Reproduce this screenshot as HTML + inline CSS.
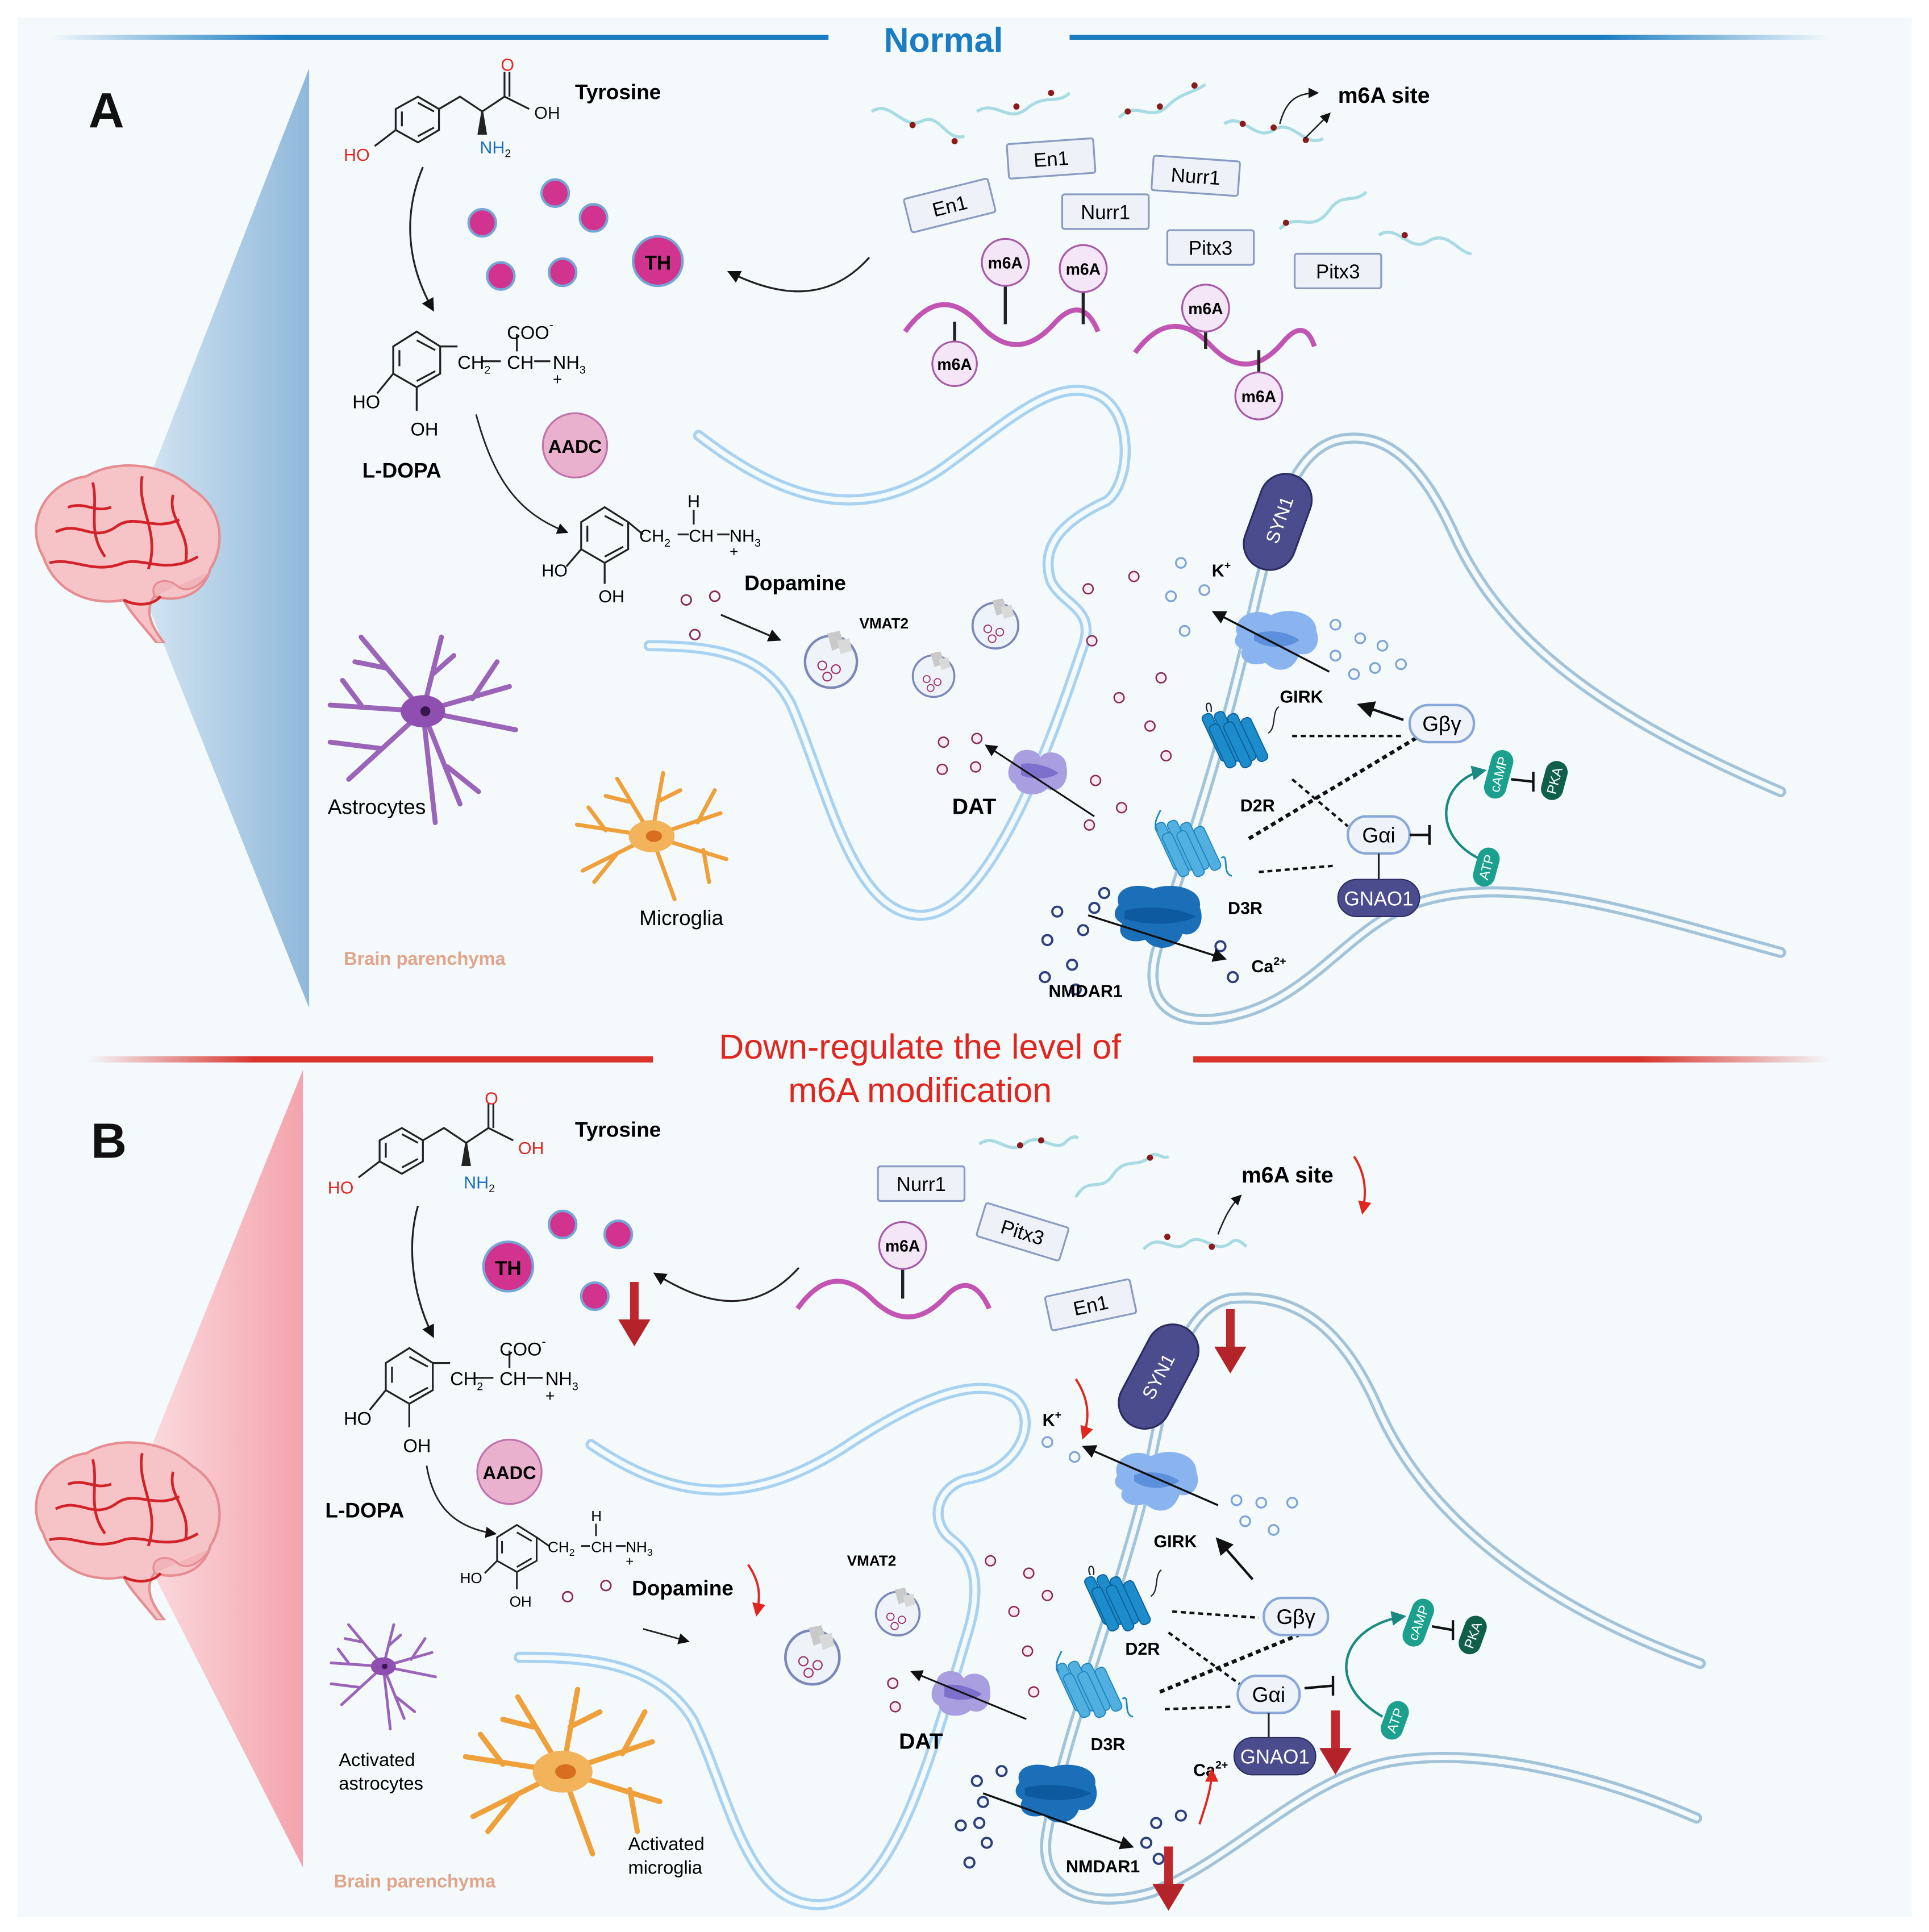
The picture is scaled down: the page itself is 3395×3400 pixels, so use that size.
<!DOCTYPE html>
<html><head><meta charset="utf-8"><style>
html,body{margin:0;padding:0;background:#fff}
svg{display:block}
text{font-family:"Liberation Sans",sans-serif}
</style></head><body>
<svg width="3395" height="3400" viewBox="0 0 1560 1562" xmlns="http://www.w3.org/2000/svg">
<defs>
<linearGradient id="lb" x1="0" x2="1"><stop offset="0" stop-color="#1a7cc1" stop-opacity="0"/><stop offset="0.3" stop-color="#1a7cc1"/><stop offset="1" stop-color="#1a7cc1"/></linearGradient>
<linearGradient id="rb" x1="0" x2="1"><stop offset="0" stop-color="#1a7cc1"/><stop offset="0.7" stop-color="#1a7cc1"/><stop offset="1" stop-color="#1a7cc1" stop-opacity="0"/></linearGradient>
<linearGradient id="lr" x1="0" x2="1"><stop offset="0" stop-color="#d8322b" stop-opacity="0"/><stop offset="0.3" stop-color="#d8322b"/><stop offset="1" stop-color="#d8322b"/></linearGradient>
<linearGradient id="rr" x1="0" x2="1"><stop offset="0" stop-color="#d8322b"/><stop offset="0.7" stop-color="#d8322b"/><stop offset="1" stop-color="#d8322b" stop-opacity="0"/></linearGradient>
<linearGradient id="tb" x1="0" x2="1"><stop offset="0" stop-color="#dbeaf5"/><stop offset="1" stop-color="#8fb8da"/></linearGradient>
<linearGradient id="tr" x1="0" x2="1"><stop offset="0" stop-color="#fbe3e6"/><stop offset="1" stop-color="#f4a3ac"/></linearGradient>
<marker id="ah" viewBox="0 0 10 10" refX="8" refY="5" markerWidth="7" markerHeight="7" orient="auto-start-reverse"><path d="M0,0L10,5L0,10z" fill="#111"/></marker>
<marker id="ahr" viewBox="0 0 10 10" refX="8" refY="5" markerWidth="6" markerHeight="6" orient="auto"><path d="M0,0L10,5L0,10z" fill="#e0261f"/></marker>
<marker id="aht" viewBox="0 0 10 10" refX="8" refY="5" markerWidth="6" markerHeight="6" orient="auto"><path d="M0,0L10,5L0,10z" fill="#1a8a80"/></marker>
<symbol id="brain" viewBox="0 0 170 150">
<path d="M20,80 C5,55 20,20 55,15 C80,0 120,5 140,25 C165,40 168,70 155,90 C150,110 130,118 110,112 C100,125 110,140 118,150 L112,150 C100,135 90,125 85,115 C60,120 30,110 20,80Z" fill="#f6c3c6" stroke="#e58d93" stroke-width="2"/>
<path d="M30,60 C50,50 60,70 80,55 C95,45 110,60 130,50 M25,85 C45,80 60,95 85,85 C100,80 120,95 145,80 M60,20 C65,40 55,60 70,80 M100,15 C95,40 115,60 105,90 M125,30 C120,50 140,60 135,85 M85,115 C95,120 108,120 115,112 M40,40 C55,35 60,45 75,40" fill="none" stroke="#d2232a" stroke-width="2.2"/>
<path d="M110,112 C105,100 120,95 130,105 C140,110 150,100 155,92" fill="#f1b5b9" stroke="#e58d93" stroke-width="1.5"/>
</symbol>
<symbol id="girk" viewBox="0 0 80 60"><path d="M5,25 C0,10 20,0 35,8 C50,0 75,5 75,22 C80,35 70,45 60,42 C55,58 40,60 30,50 C15,55 5,45 10,38 C2,35 2,30 5,25Z" fill="#8ab4ef"/><path d="M20,25 C30,20 50,22 60,30 C50,38 30,38 20,30Z" fill="#5c8fdc"/></symbol>
<symbol id="nmdar" viewBox="0 0 80 60"><path d="M5,20 C0,5 20,0 35,6 C50,0 78,5 75,22 C80,35 72,48 60,45 C55,60 35,60 28,50 C12,55 2,45 8,36 C0,32 0,26 5,20Z" fill="#1b6fb8"/><path d="M10,25 C30,20 55,22 72,30 C55,38 30,38 10,32Z" fill="#0d5aa0"/></symbol>
<symbol id="dat" viewBox="0 0 60 50"><path d="M8,15 C10,3 28,3 32,12 C38,4 55,8 55,20 C58,35 48,45 38,40 C30,48 12,46 10,36 C2,32 2,22 8,15Z" fill="#a89ee0"/><path d="M15,18 C25,16 40,20 48,26 C40,32 25,32 15,28Z" fill="#7d6fcc"/></symbol>
<symbol id="gpcr" viewBox="0 0 70 70"><g fill="#1c8ccc" stroke="#0a5f96" stroke-width="1"><rect x="8" y="10" width="10" height="48" rx="4" transform="rotate(-25 13 34)"/><rect x="20" y="8" width="10" height="50" rx="4" transform="rotate(-25 25 33)"/><rect x="32" y="10" width="10" height="48" rx="4" transform="rotate(-25 37 34)"/><rect x="44" y="14" width="10" height="44" rx="4" transform="rotate(-25 49 36)"/><rect x="14" y="20" width="10" height="44" rx="4" transform="rotate(-25 19 42)"/><rect x="28" y="18" width="10" height="46" rx="4" transform="rotate(-25 33 41)"/></g><path d="M5,10 C0,0 10,-2 8,10 M62,30 C70,25 65,10 72,5" fill="none" stroke="#222" stroke-width="1.2"/></symbol>
<symbol id="gpcr3" viewBox="0 0 70 70"><g fill="#52b0e0" stroke="#1f86c0" stroke-width="1"><rect x="8" y="10" width="10" height="48" rx="4" transform="rotate(-25 13 34)"/><rect x="20" y="8" width="10" height="50" rx="4" transform="rotate(-25 25 33)"/><rect x="32" y="10" width="10" height="48" rx="4" transform="rotate(-25 37 34)"/><rect x="44" y="14" width="10" height="44" rx="4" transform="rotate(-25 49 36)"/><rect x="14" y="20" width="10" height="44" rx="4" transform="rotate(-25 19 42)"/><rect x="28" y="18" width="10" height="46" rx="4" transform="rotate(-25 33 41)"/></g><path d="M2,20 C-5,10 8,0 5,-5 M62,45 C70,40 62,60 72,62" fill="none" stroke="#1f86c0" stroke-width="1.5"/></symbol>
<symbol id="ves" viewBox="0 0 50 50"><circle cx="25" cy="27" r="21" fill="#eef3fa" stroke="#7a87b8" stroke-width="2"/><circle cx="18" cy="30" r="3.5" fill="none" stroke="#a0306a" stroke-width="1"/><circle cx="29" cy="33" r="3.5" fill="none" stroke="#a0306a" stroke-width="1"/><circle cx="22" cy="39" r="3.5" fill="none" stroke="#a0306a" stroke-width="1"/><path d="M22,4 L32,2 L36,14 L26,18Z" fill="#c9c9c9"/><path d="M30,10 L40,8 L42,18 L33,21Z" fill="#d9d9d9"/></symbol>
<symbol id="astro" viewBox="0 0 160 170"><g fill="none" stroke="#9a64b8" stroke-width="4" stroke-linecap="round"><path d="M80,75 L30,15 M50,40 L25,35 M80,75 L95,15 M88,45 L105,30 M80,75 L150,55 M120,65 L140,35 M80,75 L155,90 M80,75 L110,150 M100,120 L125,140 M80,75 L90,165 M80,75 L20,130 M45,105 L5,100 M80,75 L5,70 M30,70 L15,50"/></g><ellipse cx="80" cy="75" rx="18" ry="13" fill="#8e4fb0"/><circle cx="82" cy="75" r="4" fill="#3a1650"/></symbol>
<symbol id="micro" viewBox="0 0 140 120"><g fill="none" stroke="#f0a03a" stroke-width="3.5" stroke-linecap="round"><path d="M70,60 L40,10 M50,30 L30,25 M70,60 L80,5 M75,30 L95,20 M70,60 L130,40 M110,48 L125,20 M70,60 L135,80 M115,72 L120,100 M70,60 L90,115 M70,60 L10,90 M40,75 L20,100 M70,60 L5,50 M30,55 L15,35"/></g><ellipse cx="70" cy="60" rx="20" ry="14" fill="#f3b35a"/><ellipse cx="72" cy="60" rx="7" ry="5" fill="#d86e20"/></symbol>
<symbol id="rarrow" viewBox="0 0 30 60"><rect x="11" y="0" width="8" height="40" fill="#c0272d"/><path d="M0,35 L30,35 L15,60Z" fill="#b5232a"/></symbol>
<symbol id="tyro" viewBox="0 0 280 100">
<g fill="none" stroke="#222" stroke-width="1.6"><path d="M45,65 L45,43 L64,32 L83,43 L83,65 L64,76Z M50,63 L50,46 M64,70 L79,62 M79,46 L64,37 M83,43 L102,32 L120,43 M120,43 L139,32 M139,32 L139,10 M143,32 L143,10 M139,32 L156,42 M45,65 L28,75"/><path d="M120,43 L123,60 L117,60Z" fill="#222"/></g>
</symbol>
</defs>

<rect width="1560" height="1562" fill="#ffffff"/>
<rect x="14" y="14" width="1532" height="1536" fill="#f4f9fc"/>

<!-- ===== PANEL A ===== -->
<rect x="40" y="28" width="630" height="4" fill="url(#lb)"/>
<rect x="865" y="28" width="615" height="4" fill="url(#rb)"/>
<text x="763" y="42" font-size="28" font-weight="bold" fill="#1a7cc1" text-anchor="middle">Normal</text>
<text x="86" y="103" font-size="40" font-weight="bold" fill="#111" text-anchor="middle">A</text>
<path d="M100,440 L250,55 L250,815Z" fill="url(#tb)"/>
<use href="#brain" x="15" y="370" width="170" height="150"/>

<!-- tyrosine -->
<g fill="none" stroke="#222" stroke-width="1.5">
<path d="M320,105 L320,88 L338,78 L355,88 L355,105 L338,115Z M325,102 L325,90 M338,110 L351,103 M351,90 L338,83"/>
<path d="M320,105 L303,118 M355,88 L372,78 L390,90 L408,78 L408,58 M412,78 L412,58 M408,78 L428,88"/>
<path d="M390,90 L393,108 L387,108Z" fill="#222"/>
</g>
<text x="278" y="130" font-size="14"><tspan fill="#e0261f">H</tspan><tspan fill="#e0261f">O</tspan></text>
<text x="405" y="57" font-size="14" fill="#e0261f">O</text>
<text x="432" y="96" font-size="14" fill="#111">O<tspan fill="#111">H</tspan></text>
<text x="388" y="124" font-size="14" fill="#1a6fc0">NH<tspan font-size="9" dy="3" fill="#111">2</tspan></text>
<text x="465" y="80" font-size="17" font-weight="bold">Tyrosine</text>
<path d="M342,135 C325,175 330,215 350,250" fill="none" stroke="#222" stroke-width="1.5" marker-end="url(#ah)"/>

<!-- enzymes circles -->
<g fill="#d1338f" stroke="#74a6d6" stroke-width="2">
<circle cx="390" cy="180" r="11"/><circle cx="449" cy="156" r="11"/><circle cx="480" cy="176" r="11"/><circle cx="405" cy="223" r="11"/><circle cx="455" cy="220" r="11"/><circle cx="532" cy="211" r="20"/></g>
<text x="532" y="218" font-size="16" font-weight="bold" text-anchor="middle">TH</text>
<path d="M703,208 C670,245 630,240 590,220" fill="none" stroke="#222" stroke-width="1.5" marker-end="url(#ah)"/>

<!-- L-DOPA -->
<g fill="none" stroke="#222" stroke-width="1.5">
<path d="M318,298 L318,280 L337,268 L356,280 L356,302 L337,313 L318,302Z M323,296 L323,283 M337,308 L352,300 M352,283 L337,275 M356,280 L370,280 M318,302 L305,318 M337,313 L337,332 M418,270 L418,284 M390,292 L405,292 M432,292 L445,292"/></g>
<text x="370" y="298" font-size="15">CH<tspan font-size="9" dy="4">2</tspan></text>
<text x="410" y="298" font-size="15">CH</text>
<text x="447" y="298" font-size="15">NH<tspan font-size="9" dy="4">3</tspan></text>
<text x="447" y="311" font-size="13">+</text>
<text x="410" y="274" font-size="15">COO<tspan font-size="10" dy="-8">-</tspan></text>
<text x="285" y="330" font-size="15">HO</text>
<text x="332" y="352" font-size="15">OH</text>
<text x="293" y="386" font-size="17" font-weight="bold">L-DOPA</text>
<circle cx="465" cy="360" r="26" fill="#e9b1cd" stroke="#c173ac" stroke-width="1.5"/>
<text x="465" y="366" font-size="15" font-weight="bold" text-anchor="middle">AADC</text>
<path d="M385,335 C400,390 420,415 458,430" fill="none" stroke="#222" stroke-width="1.3" marker-end="url(#ah)"/>

<!-- Dopamine -->
<g fill="none" stroke="#222" stroke-width="1.5">
<path d="M470,440 L470,422 L489,410 L508,422 L508,444 L489,455 L470,444Z M475,438 L475,425 M489,450 L504,442 M504,425 L489,417 M508,422 L520,432 M470,444 L458,458 M489,455 L489,472 M561,412 L561,424 M548,432 L557,432 M580,432 L590,432"/></g>
<text x="517" y="438" font-size="14">CH<tspan font-size="9" dy="4">2</tspan></text>
<text x="557" y="438" font-size="14">CH</text>
<text x="590" y="438" font-size="14">NH<tspan font-size="9" dy="4">3</tspan></text>
<text x="590" y="450" font-size="12">+</text>
<text x="556" y="410" font-size="14">H</text>
<text x="438" y="466" font-size="14">HO</text>
<text x="484" y="487" font-size="14">OH</text>
<text x="602" y="477" font-size="17" font-weight="bold">Dopamine</text>
<g fill="none" stroke="#8a2a5a" stroke-width="1.3"><circle cx="555" cy="485" r="4"/><circle cx="578" cy="482" r="4"/><circle cx="562" cy="513" r="4"/></g>
<path d="M583,497 L630,517" stroke="#222" stroke-width="1.5" marker-end="url(#ah)"/>

<!-- mRNA region A -->
<g fill="none" stroke="#a8dbe2" stroke-width="2.5">
<path d="M705,90 C720,80 730,105 745,98 C760,90 765,115 780,110"/>
<path d="M790,90 C805,80 815,100 830,88 C845,75 855,85 865,75"/>
<path d="M905,95 C920,80 930,100 945,85 C955,75 965,75 975,68"/>
<path d="M990,100 C1005,90 1015,115 1030,105 C1045,95 1055,120 1070,112"/>
<path d="M1035,185 C1050,170 1060,190 1075,170 C1085,155 1095,165 1105,155"/>
<path d="M1115,190 C1130,180 1140,205 1155,195 C1170,185 1180,205 1190,205"/>
</g>
<g fill="#8b1a1a"><circle cx="738" cy="101" r="2.5"/><circle cx="772" cy="114" r="2.5"/><circle cx="822" cy="86" r="2.5"/><circle cx="850" cy="75" r="2.5"/><circle cx="912" cy="90" r="2.5"/><circle cx="938" cy="86" r="2.5"/><circle cx="966" cy="69" r="2.5"/><circle cx="1005" cy="100" r="2.5"/><circle cx="1030" cy="103" r="2.5"/><circle cx="1056" cy="113" r="2.5"/><circle cx="1040" cy="180" r="2.5"/><circle cx="1136" cy="190" r="2.5"/></g>
<path d="M1035,100 C1040,80 1050,75 1065,75" fill="none" stroke="#222" stroke-width="1.2" marker-end="url(#ah)"/>
<path d="M1055,112 L1075,92" fill="none" stroke="#222" stroke-width="1.2" marker-end="url(#ah)"/>
<text x="1082" y="83" font-size="18" font-weight="bold">m6A site</text>

<g fill="#eef2f8" stroke="#8a9cc2" stroke-width="1.5">
<rect x="733" y="152" width="70" height="28" rx="2" transform="rotate(-14 768 166)"/>
<rect x="815" y="114" width="70" height="28" rx="2" transform="rotate(-4 850 128)"/>
<rect x="859" y="157" width="70" height="28" rx="2"/>
<rect x="932" y="128" width="70" height="28" rx="2" transform="rotate(4 967 142)"/>
<rect x="944" y="186" width="70" height="28" rx="2"/>
<rect x="1047" y="205" width="70" height="28" rx="2"/>
</g>
<g font-size="16" text-anchor="middle">
<text x="768" y="172" transform="rotate(-14 768 166)">En1</text>
<text x="850" y="134" transform="rotate(-4 850 128)">En1</text>
<text x="894" y="177">Nurr1</text>
<text x="967" y="148" transform="rotate(4 967 142)">Nurr1</text>
<text x="979" y="206">Pitx3</text>
<text x="1082" y="225">Pitx3</text>
</g>
<g fill="none" stroke="#c254b4" stroke-width="4">
<path d="M732,268 C752,240 772,240 792,262 C812,284 832,284 852,262 C868,244 880,248 888,268"/>
<path d="M918,285 C938,258 958,258 978,278 C998,300 1018,300 1038,276 C1050,262 1058,265 1063,280"/>
</g>
<g stroke="#222" stroke-width="2.5"><path d="M813,230 L813,262 M876,236 L876,262 M772,260 L772,282 M975,267 L975,282 M1018,283 L1018,305"/></g>
<g fill="#f4e6f6" stroke="#a65aa8" stroke-width="1.5"><circle cx="813" cy="212" r="19"/><circle cx="876" cy="217" r="19"/><circle cx="772" cy="294" r="18"/><circle cx="975" cy="249" r="19"/><circle cx="1018" cy="320" r="19"/></g>
<g font-size="13" font-weight="bold" text-anchor="middle"><text x="813" y="217">m6A</text><text x="876" y="222">m6A</text><text x="772" y="299">m6A</text><text x="975" y="254">m6A</text><text x="1018" y="325">m6A</text></g>

<!-- membranes A -->
<g fill="none" stroke-linecap="round">
<path id="preA" d="M565,352 C640,410 700,420 760,380 C810,345 850,305 885,318 C918,330 915,390 895,405 C862,420 840,440 850,470 C860,490 888,492 875,525 C850,600 800,740 745,740 C690,740 670,640 640,570 C620,530 580,522 525,522" stroke="#a9d2f0" stroke-width="9"/>
<path d="M565,352 C640,410 700,420 760,380 C810,345 850,305 885,318 C918,330 915,390 895,405 C862,420 840,440 850,470 C860,490 888,492 875,525 C850,600 800,740 745,740 C690,740 670,640 640,570 C620,530 580,522 525,522" stroke="#f4f9fc" stroke-width="4"/>
<path d="M1440,640 C1300,580 1215,520 1175,430 C1145,365 1115,350 1085,355 C1045,362 1030,420 1012,500 C985,620 955,700 935,770 C922,820 960,832 1002,820 C1060,805 1090,752 1140,732 C1220,702 1330,740 1440,770" stroke="#a3c3d9" stroke-width="9"/>
<path d="M1440,640 C1300,580 1215,520 1175,430 C1145,365 1115,350 1085,355 C1045,362 1030,420 1012,500 C985,620 955,700 935,770 C922,820 960,832 1002,820 C1060,805 1090,752 1140,732 C1220,702 1330,740 1440,770" stroke="#f4f9fc" stroke-width="4"/>
</g>

<!-- astrocyte microglia A -->
<use href="#astro" x="262" y="500" width="160" height="170"/>
<text x="265" y="658" font-size="17">Astrocytes</text>
<use href="#micro" x="462" y="620" width="130" height="112"/>
<text x="517" y="748" font-size="17">Microglia</text>
<text x="278" y="780" font-size="15" font-weight="bold" fill="#e0a58a">Brain parenchyma</text>

<!-- vesicles A -->
<use href="#ves" x="647" y="508" width="50" height="50"/>
<use href="#ves" x="735" y="522" width="40" height="46"/>
<use href="#ves" x="782" y="482" width="46" height="44"/>
<text x="695" y="508" font-size="12" font-weight="bold">VMAT2</text>

<!-- dopamine dots A -->
<g fill="#fbeaf3" stroke="#8a2a5a" stroke-width="1.2">
<circle cx="880" cy="476" r="4"/><circle cx="917" cy="466" r="4"/><circle cx="883" cy="518" r="4"/><circle cx="939" cy="548" r="4"/><circle cx="905" cy="564" r="4"/><circle cx="930" cy="587" r="4"/><circle cx="886" cy="631" r="4"/><circle cx="943" cy="611" r="4"/><circle cx="907" cy="653" r="4"/><circle cx="881" cy="667" r="4"/><circle cx="763" cy="600" r="4"/><circle cx="790" cy="597" r="4"/><circle cx="762" cy="622" r="4"/><circle cx="789" cy="620" r="4"/></g>
<!-- K+ A -->
<g fill="none" stroke="#7ea3d8" stroke-width="1.5"><circle cx="955" cy="455" r="4"/><circle cx="947" cy="482" r="4"/><circle cx="974" cy="477" r="4"/><circle cx="958" cy="510" r="4"/><circle cx="1080" cy="505" r="4"/><circle cx="1100" cy="516" r="4"/><circle cx="1118" cy="522" r="4"/><circle cx="1080" cy="530" r="4"/><circle cx="1095" cy="545" r="4"/><circle cx="1112" cy="540" r="4"/><circle cx="1133" cy="537" r="4"/></g>
<text x="980" y="466" font-size="14" font-weight="bold">K<tspan font-size="9" dy="-6">+</tspan></text>
<!-- Ca A -->
<g fill="none" stroke="#2e3f7e" stroke-width="1.8"><circle cx="855" cy="737" r="4"/><circle cx="885" cy="734" r="4"/><circle cx="847" cy="760" r="4"/><circle cx="876" cy="752" r="4"/><circle cx="867" cy="780" r="4"/><circle cx="845" cy="790" r="4"/><circle cx="870" cy="800" r="4"/><circle cx="893" cy="722" r="4"/><circle cx="987" cy="765" r="4"/><circle cx="997" cy="790" r="4"/></g>
<text x="1012" y="786" font-size="14" font-weight="bold">Ca<tspan font-size="9" dy="-6">2+</tspan></text>

<!-- receptors A -->
<rect x="1013" y="382" width="42" height="80" rx="21" fill="#4b4c8e" stroke="#2c2c60" stroke-width="1.5" transform="rotate(20 1034 420)"/>
<text x="1034" y="426" font-size="15" fill="#fff" text-anchor="middle" transform="rotate(-70 1034 420)">SYN1</text>
<use href="#girk" x="995" y="490" width="75" height="55"/>
<path d="M1075,543 L982,495" stroke="#111" stroke-width="1.6" marker-end="url(#ah)"/>
<text x="1035" y="568" font-size="14" font-weight="bold">GIRK</text>
<use href="#gpcr" x="970" y="567" width="65" height="60"/>
<text x="1003" y="656" font-size="14" font-weight="bold">D2R</text>
<use href="#gpcr3" x="932" y="655" width="65" height="60"/>
<text x="993" y="739" font-size="14" font-weight="bold">D3R</text>
<use href="#nmdar" x="900" y="710" width="75" height="62"/>
<path d="M880,740 L990,775" stroke="#111" stroke-width="1.6" marker-end="url(#ah)"/>
<text x="848" y="806" font-size="14" font-weight="bold">NMDAR1</text>
<use href="#dat" x="812" y="600" width="55" height="48"/>
<path d="M885,660 L798,603" stroke="#111" stroke-width="1.4" marker-end="url(#ah)"/>
<text x="770" y="658" font-size="18" font-weight="bold">DAT</text>

<!-- signalling A -->
<g stroke="#111" stroke-width="2" stroke-dasharray="4 3" fill="none">
<path d="M1045,595 L1135,595"/><path d="M1018,705 L1078,700"/><path d="M1010,678 L1148,595" stroke-width="3"/><path d="M1045,630 L1090,668"/></g>
<path d="M1135,582 L1100,570" stroke="#111" stroke-width="2" marker-end="url(#ah)"/>
<rect x="1140" y="570" width="52" height="30" rx="15" fill="#eef3fa" stroke="#8aa7d8" stroke-width="2"/>
<text x="1166" y="591" font-size="17" text-anchor="middle">Gβγ</text>
<rect x="1090" y="660" width="50" height="30" rx="15" fill="#eef3fa" stroke="#8aa7d8" stroke-width="2"/>
<text x="1115" y="681" font-size="17" text-anchor="middle">Gαi</text>
<path d="M1115,690 L1115,712" stroke="#222" stroke-width="1.5"/>
<rect x="1082" y="711" width="66" height="30" rx="15" fill="#4b4c8e" stroke="#2c2c60"/>
<text x="1115" y="732" font-size="16" fill="#fff" text-anchor="middle">GNAO1</text>
<path d="M1140,675 L1156,675 M1156,667 L1156,683" stroke="#111" stroke-width="2"/>
<path d="M1198,695 C1155,675 1165,630 1200,623" fill="none" stroke="#1a8a80" stroke-width="2" marker-end="url(#aht)"/>
<rect x="1203" y="606" width="18" height="40" rx="9" fill="#1aa08c" transform="rotate(15 1212 626)"/>
<text x="1212" y="630" font-size="11" fill="#fff" text-anchor="middle" transform="rotate(-75 1212 626)">cAMP</text>
<path d="M1222,630 L1240,632 M1240,624 L1240,640" stroke="#111" stroke-width="2"/>
<rect x="1248" y="615" width="18" height="32" rx="9" fill="#105f4c" transform="rotate(15 1257 631)"/>
<text x="1257" y="635" font-size="11" fill="#fff" text-anchor="middle" transform="rotate(-75 1257 631)">PKA</text>
<rect x="1193" y="685" width="18" height="32" rx="9" fill="#1aa08c" transform="rotate(15 1202 701)"/>
<text x="1202" y="705" font-size="11" fill="#fff" text-anchor="middle" transform="rotate(-75 1202 701)">ATP</text>

<!-- ===== PANEL B ===== -->
<rect x="70" y="854" width="458" height="5" fill="url(#lr)"/>
<rect x="965" y="854" width="515" height="5" fill="url(#rr)"/>
<text x="744" y="856" font-size="28" fill="#e0261f" text-anchor="middle">Down-regulate the level of</text>
<text x="744" y="891" font-size="28" fill="#e0261f" text-anchor="middle">m6A modification</text>
<text x="88" y="936" font-size="40" font-weight="bold" fill="#111" text-anchor="middle">B</text>
<path d="M100,1225 L245,865 L245,1510Z" fill="url(#tr)"/>
<use href="#brain" x="15" y="1160" width="170" height="150"/>

<!-- tyrosine B -->
<g fill="none" stroke="#222" stroke-width="1.5" transform="translate(-13,834)">
<path d="M320,105 L320,88 L338,78 L355,88 L355,105 L338,115Z M325,102 L325,90 M338,110 L351,103 M351,90 L338,83"/>
<path d="M320,105 L303,118 M355,88 L372,78 L390,90 L408,78 L408,58 M412,78 L412,58 M408,78 L428,88"/>
<path d="M390,90 L393,108 L387,108Z" fill="#222"/>
</g>
<text x="265" y="965" font-size="14" fill="#e0261f">HO</text>
<text x="392" y="893" font-size="14" fill="#e0261f">O</text>
<text x="419" y="933" font-size="14" fill="#e0261f">OH</text>
<text x="375" y="961" font-size="14" fill="#1a6fc0">NH<tspan font-size="9" dy="3" fill="#111">2</tspan></text>
<text x="465" y="919" font-size="17" font-weight="bold">Tyrosine</text>
<path d="M338,975 C328,1010 335,1050 350,1080" fill="none" stroke="#222" stroke-width="1.5" marker-end="url(#ah)"/>
<g fill="#d1338f" stroke="#74a6d6" stroke-width="2"><circle cx="455" cy="990" r="11"/><circle cx="500" cy="998" r="11"/><circle cx="481" cy="1048" r="11"/><circle cx="411" cy="1024" r="20"/></g>
<text x="411" y="1031" font-size="16" font-weight="bold" text-anchor="middle">TH</text>
<use href="#rarrow" x="500" y="1035" width="26" height="55"/>
<path d="M646,1025 C610,1065 570,1055 530,1030" fill="none" stroke="#222" stroke-width="1.5" marker-end="url(#ah)"/>

<!-- L-DOPA B -->
<g fill="none" stroke="#222" stroke-width="1.5" transform="translate(-6,822)">
<path d="M318,298 L318,280 L337,268 L356,280 L356,302 L337,313 L318,302Z M323,296 L323,283 M337,308 L352,300 M352,283 L337,275 M356,280 L370,280 M318,302 L305,318 M337,313 L337,332 M418,270 L418,284 M390,292 L405,292 M432,292 L445,292"/></g>
<text x="364" y="1120" font-size="15">CH<tspan font-size="9" dy="4">2</tspan></text>
<text x="404" y="1120" font-size="15">CH</text>
<text x="441" y="1120" font-size="15">NH<tspan font-size="9" dy="4">3</tspan></text>
<text x="441" y="1133" font-size="13">+</text>
<text x="404" y="1096" font-size="15">COO<tspan font-size="10" dy="-8">-</tspan></text>
<text x="278" y="1152" font-size="15">HO</text>
<text x="326" y="1174" font-size="15">OH</text>
<text x="263" y="1227" font-size="17" font-weight="bold">L-DOPA</text>
<circle cx="412" cy="1190" r="26" fill="#e9b1cd" stroke="#c173ac" stroke-width="1.5"/>
<text x="412" y="1196" font-size="15" font-weight="bold" text-anchor="middle">AADC</text>
<path d="M345,1185 C350,1215 365,1235 400,1240" fill="none" stroke="#222" stroke-width="1.3" marker-end="url(#ah)"/>
<!-- dopamine B -->
<g fill="none" stroke="#222" stroke-width="1.4">
<path d="M402,1258 L402,1243 L418,1233 L434,1243 L434,1262 L418,1271 L402,1262Z M406,1256 L406,1246 M418,1267 L430,1260 M430,1246 L418,1239 M434,1243 L444,1250 M402,1262 L392,1272 M418,1271 L418,1285 M482,1232 L482,1242 M470,1250 L477,1250 M498,1250 L506,1250"/></g>
<text x="443" y="1255" font-size="12">CH<tspan font-size="8" dy="3">2</tspan></text>
<text x="478" y="1255" font-size="12">CH</text>
<text x="506" y="1255" font-size="12">NH<tspan font-size="8" dy="3">3</tspan></text>
<text x="506" y="1266" font-size="11">+</text>
<text x="478" y="1230" font-size="12">H</text>
<text x="372" y="1280" font-size="12">HO</text>
<text x="412" y="1299" font-size="12">OH</text>
<text x="511" y="1290" font-size="17" font-weight="bold">Dopamine</text>
<g fill="none" stroke="#8a2a5a" stroke-width="1.3"><circle cx="459" cy="1291" r="4"/><circle cx="490" cy="1282" r="4"/></g>
<path d="M520,1317 L556,1327" stroke="#222" stroke-width="1.3" marker-end="url(#ah)"/>
<path d="M605,1265 C615,1280 615,1290 612,1305" fill="none" stroke="#e0261f" stroke-width="1.8" marker-end="url(#ahr)"/>

<!-- mRNA B -->
<g fill="none" stroke="#a8dbe2" stroke-width="2.5">
<path d="M792,925 C805,915 815,935 828,925 C840,915 850,930 860,925 C865,920 868,918 872,920"/>
<path d="M870,968 C880,950 890,965 900,950 C910,935 920,945 930,935 C935,930 940,938 945,935"/>
<path d="M925,1010 C938,995 948,1015 960,1005 C972,995 982,1015 995,1005 C1000,1000 1005,1005 1008,1008"/>
</g>
<g fill="#8b1a1a"><circle cx="825" cy="926" r="2.5"/><circle cx="842" cy="922" r="2.5"/><circle cx="930" cy="936" r="2.5"/><circle cx="944" cy="1000" r="2.5"/><circle cx="980" cy="1008" r="2.5"/></g>
<path d="M985,998 C990,985 995,975 1003,967" fill="none" stroke="#222" stroke-width="1.2" marker-end="url(#ah)"/>
<text x="1004" y="956" font-size="18" font-weight="bold">m6A site</text>
<path d="M1095,935 C1105,950 1105,965 1102,980" fill="none" stroke="#e0261f" stroke-width="1.8" marker-end="url(#ahr)"/>
<g fill="#eef2f8" stroke="#8a9cc2" stroke-width="1.5">
<rect x="710" y="943" width="70" height="28" rx="2"/>
<rect x="792" y="982" width="70" height="28" rx="2" transform="rotate(17 827 996)"/>
<rect x="847" y="1041" width="70" height="28" rx="2" transform="rotate(-12 882 1055)"/>
</g>
<g font-size="16" text-anchor="middle">
<text x="745" y="963">Nurr1</text>
<text x="827" y="1002" transform="rotate(17 827 996)">Pitx3</text>
<text x="882" y="1061" transform="rotate(-12 882 1055)">En1</text>
</g>
<path d="M645,1058 C665,1030 685,1030 705,1050 C725,1070 745,1070 765,1048 C780,1032 792,1040 800,1058" fill="none" stroke="#c254b4" stroke-width="4"/>
<path d="M730,1025 L730,1050" stroke="#222" stroke-width="2.5"/>
<circle cx="730" cy="1007" r="19" fill="#f4e6f6" stroke="#a65aa8" stroke-width="1.5"/>
<text x="730" y="1012" font-size="13" font-weight="bold" text-anchor="middle">m6A</text>

<!-- membranes B -->
<g fill="none" stroke-linecap="round">
<path d="M478,1168 C540,1210 600,1222 680,1172 C740,1132 790,1110 820,1130 C842,1150 822,1190 782,1196 C758,1202 750,1230 770,1245 C792,1262 792,1290 782,1322 C752,1422 722,1540 662,1540 C602,1540 590,1450 560,1390 C530,1342 470,1340 420,1340" stroke="#a9d2f0" stroke-width="9"/>
<path d="M478,1168 C540,1210 600,1222 680,1172 C740,1132 790,1110 820,1130 C842,1150 822,1190 782,1196 C758,1202 750,1230 770,1245 C792,1262 792,1290 782,1322 C752,1422 722,1540 662,1540 C602,1540 590,1450 560,1390 C530,1342 470,1340 420,1340" stroke="#f4f9fc" stroke-width="4"/>
<path d="M1375,1345 C1250,1300 1155,1230 1115,1140 C1085,1070 1045,1045 995,1050 C955,1058 942,1120 927,1200 C902,1300 862,1400 847,1480 C837,1530 882,1545 932,1530 C1002,1500 1052,1440 1122,1425 C1202,1410 1302,1440 1372,1470" stroke="#a3c3d9" stroke-width="9"/>
<path d="M1375,1345 C1250,1300 1155,1230 1115,1140 C1085,1070 1045,1045 995,1050 C955,1058 942,1120 927,1200 C902,1300 862,1400 847,1480 C837,1530 882,1545 932,1530 C1002,1500 1052,1440 1122,1425 C1202,1410 1302,1440 1372,1470" stroke="#f4f9fc" stroke-width="4"/>
</g>

<!-- glia B -->
<use href="#astro" x="265" y="1305" width="90" height="96"/>
<text x="274" y="1428" font-size="15">Activated</text>
<text x="274" y="1447" font-size="15">astrocytes</text>
<use href="#micro" x="370" y="1360" width="170" height="145"/>
<text x="508" y="1496" font-size="15">Activated</text>
<text x="508" y="1515" font-size="15">microglia</text>
<text x="270" y="1526" font-size="15" font-weight="bold" fill="#e0a58a">Brain parenchyma</text>

<use href="#ves" x="631" y="1312" width="52" height="52"/>
<use href="#ves" x="705" y="1282" width="42" height="42"/>
<text x="685" y="1266" font-size="12" font-weight="bold">VMAT2</text>

<g fill="#fbeaf3" stroke="#8a2a5a" stroke-width="1.2">
<circle cx="801" cy="1262" r="4"/><circle cx="832" cy="1272" r="4"/><circle cx="847" cy="1290" r="4"/><circle cx="820" cy="1303" r="4"/><circle cx="831" cy="1335" r="4"/><circle cx="836" cy="1368" r="4"/><circle cx="722" cy="1361" r="4"/><circle cx="724" cy="1380" r="4"/></g>
<g fill="none" stroke="#7ea3d8" stroke-width="1.5"><circle cx="847" cy="1166" r="4"/><circle cx="869" cy="1178" r="4"/><circle cx="1000" cy="1213" r="4"/><circle cx="1020" cy="1215" r="4"/><circle cx="1045" cy="1215" r="4"/><circle cx="1007" cy="1230" r="4"/><circle cx="1030" cy="1237" r="4"/></g>
<text x="843" y="1153" font-size="14" font-weight="bold">K<tspan font-size="9" dy="-6">+</tspan></text>
<path d="M870,1115 C880,1130 882,1145 876,1162" fill="none" stroke="#e0261f" stroke-width="1.8" marker-end="url(#ahr)"/>
<g fill="none" stroke="#2e3f7e" stroke-width="1.8"><circle cx="790" cy="1440" r="4"/><circle cx="810" cy="1432" r="4"/><circle cx="795" cy="1457" r="4"/><circle cx="777" cy="1476" r="4"/><circle cx="792" cy="1474" r="4"/><circle cx="798" cy="1490" r="4"/><circle cx="784" cy="1506" r="4"/><circle cx="935" cy="1474" r="4"/><circle cx="927" cy="1490" r="4"/><circle cx="955" cy="1468" r="4"/><circle cx="937" cy="1503" r="4"/></g>
<text x="965" y="1436" font-size="14" font-weight="bold">Ca<tspan font-size="9" dy="-6">2+</tspan></text>
<path d="M970,1475 C975,1460 980,1445 980,1432" fill="none" stroke="#e0261f" stroke-width="1.8" marker-end="url(#ahr)"/>

<rect x="916" y="1068" width="42" height="90" rx="21" fill="#4b4c8e" stroke="#2c2c60" stroke-width="1.5" transform="rotate(28 937 1113)"/>
<text x="937" y="1118" font-size="15" fill="#fff" text-anchor="middle" transform="rotate(-62 937 1113)">SYN1</text>
<use href="#rarrow" x="982" y="1057" width="26" height="55"/>
<use href="#girk" x="898" y="1170" width="75" height="55"/>
<path d="M985,1217 L877,1170" stroke="#111" stroke-width="1.6" marker-end="url(#ah)"/>
<text x="933" y="1251" font-size="14" font-weight="bold">GIRK</text>
<path d="M1013,1277 L985,1245" stroke="#111" stroke-width="2" marker-end="url(#ah)"/>
<use href="#gpcr" x="875" y="1265" width="65" height="60"/>
<text x="910" y="1338" font-size="14" font-weight="bold">D2R</text>
<use href="#gpcr3" x="852" y="1335" width="65" height="60"/>
<text x="882" y="1415" font-size="14" font-weight="bold">D3R</text>
<use href="#nmdar" x="820" y="1420" width="70" height="60"/>
<path d="M795,1450 L915,1493" stroke="#111" stroke-width="1.6" marker-end="url(#ah)"/>
<text x="862" y="1514" font-size="14" font-weight="bold">NMDAR1</text>
<use href="#rarrow" x="932" y="1490" width="26" height="58"/>
<use href="#dat" x="750" y="1345" width="55" height="48"/>
<path d="M830,1390 L738,1352" stroke="#111" stroke-width="1.4" marker-end="url(#ah)"/>
<text x="727" y="1414" font-size="18" font-weight="bold">DAT</text>

<g stroke="#111" stroke-width="2" stroke-dasharray="4 3" fill="none">
<path d="M948,1303 L1018,1308"/><path d="M942,1382 L995,1380"/><path d="M938,1368 L1050,1322" stroke-width="3"/><path d="M945,1320 L1003,1362"/></g>
<rect x="1022" y="1292" width="52" height="30" rx="15" fill="#eef3fa" stroke="#8aa7d8" stroke-width="2"/>
<text x="1048" y="1313" font-size="17" text-anchor="middle">Gβγ</text>
<rect x="1001" y="1355" width="50" height="30" rx="15" fill="#eef3fa" stroke="#8aa7d8" stroke-width="2"/>
<text x="1026" y="1376" font-size="17" text-anchor="middle">Gαi</text>
<path d="M1026,1385 L1026,1407" stroke="#222" stroke-width="1.5"/>
<rect x="998" y="1405" width="66" height="30" rx="15" fill="#4b4c8e" stroke="#2c2c60"/>
<text x="1031" y="1426" font-size="16" fill="#fff" text-anchor="middle">GNAO1</text>
<use href="#rarrow" x="1067" y="1380" width="26" height="58"/>
<path d="M1055,1365 L1078,1363 M1078,1355 L1078,1371" stroke="#111" stroke-width="2"/>
<path d="M1118,1388 C1070,1360 1085,1315 1135,1307" fill="none" stroke="#1a8a80" stroke-width="2" marker-end="url(#aht)"/>
<rect x="1138" y="1292" width="18" height="40" rx="9" fill="#1aa08c" transform="rotate(20 1147 1312)"/>
<text x="1147" y="1316" font-size="11" fill="#fff" text-anchor="middle" transform="rotate(-70 1147 1312)">cAMP</text>
<path d="M1158,1315 L1175,1318 M1175,1310 L1175,1326" stroke="#111" stroke-width="2"/>
<rect x="1182" y="1306" width="18" height="32" rx="9" fill="#105f4c" transform="rotate(20 1191 1322)"/>
<text x="1191" y="1326" font-size="11" fill="#fff" text-anchor="middle" transform="rotate(-70 1191 1322)">PKA</text>
<rect x="1119" y="1375" width="18" height="32" rx="9" fill="#1aa08c" transform="rotate(20 1128 1391)"/>
<text x="1128" y="1395" font-size="11" fill="#fff" text-anchor="middle" transform="rotate(-70 1128 1391)">ATP</text>
</svg>
</body></html>
